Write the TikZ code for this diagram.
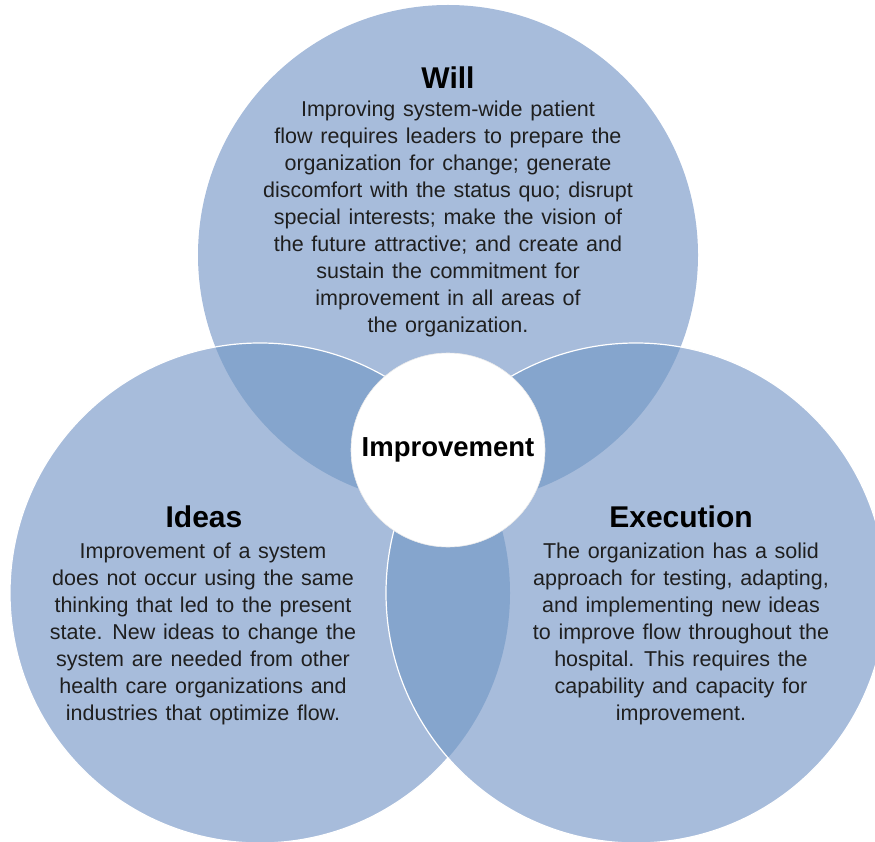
\documentclass[tikz,border=0pt]{standalone}
\usepackage{fontspec}
\setmainfont{Liberation Sans}
\definecolor{lightb}{HTML}{A7BCDB}
\definecolor{darkb}{HTML}{85A5CD}
\newcommand\widespacing{\spaceskip=0.36em plus 0.1em minus 0.05em\relax}
\tikzset{
  title/.style={font=\fontsize{30}{34}\selectfont\bfseries, inner sep=0pt, text=black},
  body/.style={font=\fontsize{21.5}{27}\selectfont\widespacing, align=center, inner sep=0pt, text=black!88},
  rim/.style={draw=white, line width=1.2pt}
}
\begin{document}
\begin{tikzpicture}[x=1pt,y=-1pt]
\useasboundingbox (0,0) rectangle (875,842);
\clip (0,0) rectangle (875,842);
\coordinate (T) at (448,255);
\coordinate (L) at (260,593);
\coordinate (R) at (636,593);
\def\rad{250}
% top circle
\fill[lightb] (T) circle[radius=\rad];
% left circle
\fill[lightb] (L) circle[radius=\rad];
\begin{scope}
  \clip (L) circle[radius=\rad];
  \fill[darkb] (T) circle[radius=\rad];
\end{scope}
\draw[rim] (L) circle[radius=\rad];
% right circle
\fill[lightb] (R) circle[radius=\rad];
\begin{scope}
  \clip (R) circle[radius=\rad];
  \fill[darkb] (T) circle[radius=\rad];
  \fill[darkb] (L) circle[radius=\rad];
\end{scope}
\draw[rim] (R) circle[radius=\rad];
% centre
\node[circle, fill=white, draw=white!92!black, line width=0.6pt, minimum size=194pt, inner sep=0pt,
      font=\fontsize{27.5}{30}\selectfont\bfseries] (imp) at (448,450) {Improvement};
% titles
\node[title] (will) at (448,78) {Will};
\node[title] (ideas) at (204,517) {Ideas};
\node[title] (exec) at (681,517) {Execution};
% bodies
\node[body] (willtxt) at (448,219) {Improving system-wide patient\\
flow requires leaders to prepare the\\
organization for change; generate\\
discomfort with the status quo; disrupt\\
special interests; make the vision of\\
the future attractive; and create and\\
sustain the commitment for\\
improvement in all areas of\\
the organization.};
\node[body] (ideastxt) at (203,634) {Improvement of a system\\
does not occur using the same\\
thinking that led to the present\\
state. New ideas to change the\\
system are needed from other\\
health care organizations and\\
industries that optimize flow.};
\node[body] (exectxt) at (681,634) {The organization has a solid\\
approach for testing, adapting,\\
and implementing new ideas\\
to improve flow throughout the\\
hospital. This requires the\\
capability and capacity for\\
improvement.};
\end{tikzpicture}
\end{document}
